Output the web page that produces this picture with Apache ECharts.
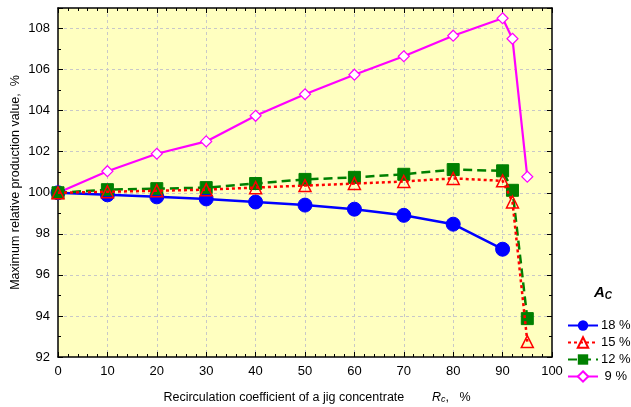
<!DOCTYPE html>
<html>
<head>
<meta charset="utf-8">
<script src="https://cdn.jsdelivr.net/npm/echarts@6/dist/echarts.min.js"></script>
<style>
  html, body { margin: 0; padding: 0; background: #fff; }
  #main { width: 631px; height: 407px; }
</style>
</head>
<body>
<div id="main"></div>
<script>
// data
var xs18 = [0, 10, 20, 30, 40, 50, 60, 70, 80, 90];
var ac18 = [100.0, 99.9, 99.8, 99.7, 99.55, 99.4, 99.2, 98.9, 98.47, 97.25];

var xsAll = [0, 10, 20, 30, 40, 50, 60, 70, 80, 90, 92, 95];
var ac15 = [100.0, 100.05, 100.1, 100.15, 100.25, 100.35, 100.45, 100.55, 100.7, 100.58, 99.55, 92.75];
var ac12 = [100.0, 100.15, 100.2, 100.25, 100.45, 100.65, 100.75, 100.9, 101.13, 101.07, 100.12, 93.87];
var ac9  = [100.0, 101.05, 101.9, 102.5, 103.75, 104.8, 105.75, 106.65, 107.65, 108.5, 107.5, 100.78];

var legendNames = ['18 %', '15 %', '12 %', ' 9 %'];

function pairs(xs, ys) {
    return xs.map(function (x, i) { return [x, ys[i]]; });
}

var myChart = echarts.init(document.getElementById('main'));

var font = 'Liberation Sans, Arial, sans-serif';
var gridLine = { show: true, lineStyle: { color: '#c8c8c8', type: [3, 3], width: 1 } };

var baseX = {
    type: 'value', min: 0, max: 100, interval: 10,
    axisLine: { show: true, onZero: false, lineStyle: { color: '#000', width: 1.5 } },
    axisTick: { show: true, inside: true, length: 5, lineStyle: { color: '#000' } },
    minorTick: { show: true, splitNumber: 5, length: 3, lineStyle: { color: '#000' } }
};
var baseY = {
    type: 'value', min: 92, max: 109, interval: 2,
    axisLine: { show: true, onZero: false, lineStyle: { color: '#000', width: 1.5 } },
    axisTick: { show: true, inside: true, length: 5, lineStyle: { color: '#000' } },
    minorTick: { show: true, splitNumber: 2, length: 3, lineStyle: { color: '#000' } }
};

var option = {
    backgroundColor: '#fff',
    textStyle: { fontFamily: font },
    grid: {
        left: 58, right: 79, top: 8, bottom: 50,
        outerBoundsMode: 'none', containLabel: false,
        show: true, backgroundColor: '#ffffc0', borderWidth: 0
    },
    title: {
        text: '{a|A}{c|C}',
        right: 14, top: 280,
        textStyle: {
            rich: {
                a: { fontFamily: font, fontStyle: 'italic', fontSize: 15, color: '#000' },
                c: { fontFamily: font, fontStyle: 'italic', fontSize: 10, color: '#000', verticalAlign: 'bottom', padding: [6, 0, 0, 0] }
            }
        }
    },
    legend: {
        data: legendNames,
        orient: 'vertical',
        left: 562, top: 314,
        itemWidth: 30, itemHeight: 13, itemGap: 4,
        textStyle: { fontFamily: font, fontSize: 13, color: '#000', padding: [0, 0, 0, -2] }
    },
    xAxis: [
        Object.assign({}, baseX, {
            position: 'bottom',
            name: 'Recirculation coefficient of a jig concentrate        {i|R}{s|c}{n|,   %}',
            nameLocation: 'middle', nameGap: 34, nameMoveOverlap: false,
            nameTextStyle: {
                fontFamily: font, fontSize: 12.5, color: '#000', padding: [0, 0, 0, 24],
                rich: {
                    i: { fontFamily: font, fontStyle: 'italic', fontSize: 12.5, color: '#000' },
                    s: { fontFamily: font, fontStyle: 'italic', fontSize: 9, color: '#000', verticalAlign: 'bottom', padding: [4, 0, 0, 0] },
                    n: { fontFamily: font, fontSize: 12.5, color: '#000' }
                }
            },
            axisLabel: { fontFamily: font, fontSize: 13, color: '#000', margin: 8 },
            splitLine: Object.assign({ showMinLine: false, showMaxLine: false }, gridLine)
        }),
        Object.assign({}, baseX, {
            position: 'top',
            axisLabel: { show: false },
            splitLine: { show: false }
        })
    ],
    yAxis: [
        Object.assign({}, baseY, {
            position: 'left',
            name: 'Maximum relative production value,  %',
            nameLocation: 'middle', nameGap: 36, nameMoveOverlap: false,
            nameTextStyle: { fontFamily: font, fontSize: 12.5, color: '#000' },
            axisLabel: { fontFamily: font, fontSize: 13, color: '#000', margin: 8, showMaxLabel: false },
            splitLine: Object.assign({ showMinLine: false, showMaxLine: false }, gridLine)
        }),
        Object.assign({}, baseY, {
            position: 'right',
            axisLabel: { show: false },
            splitLine: { show: false }
        })
    ],
    series: [
        {
            name: ' 9 %', type: 'line', data: pairs(xsAll, ac9),
            symbol: 'diamond', symbolSize: 11, z: 2,
            lineStyle: { color: '#ff00ff', width: 2.2 },
            itemStyle: { color: '#ffffff', borderColor: '#ff00ff', borderWidth: 1.2 }
        },
        {
            name: '18 %', type: 'line', data: pairs(xs18, ac18),
            symbol: 'circle', symbolSize: 14, z: 3,
            lineStyle: { color: '#0000ff', width: 2.5 },
            itemStyle: { color: '#0000ff', borderColor: '#0000ff' }
        },
        {
            name: '12 %', type: 'line', data: pairs(xsAll, ac12),
            symbol: 'rect', symbolSize: 12, z: 4,
            lineStyle: { color: '#008000', width: 2.5, type: [9, 5] },
            itemStyle: { color: '#008000', borderColor: '#008000' }
        },
        {
            name: '15 %', type: 'line', data: pairs(xsAll, ac15),
            symbol: 'triangle', symbolSize: 12, z: 5,
            lineStyle: { color: '#ff0000', width: 2.5, type: [3, 3] },
            itemStyle: { color: 'rgba(255,255,255,0)', borderColor: '#ff0000', borderWidth: 1.5 }
        }
    ]
};

myChart.setOption(option);
</script>
</body>
</html>
